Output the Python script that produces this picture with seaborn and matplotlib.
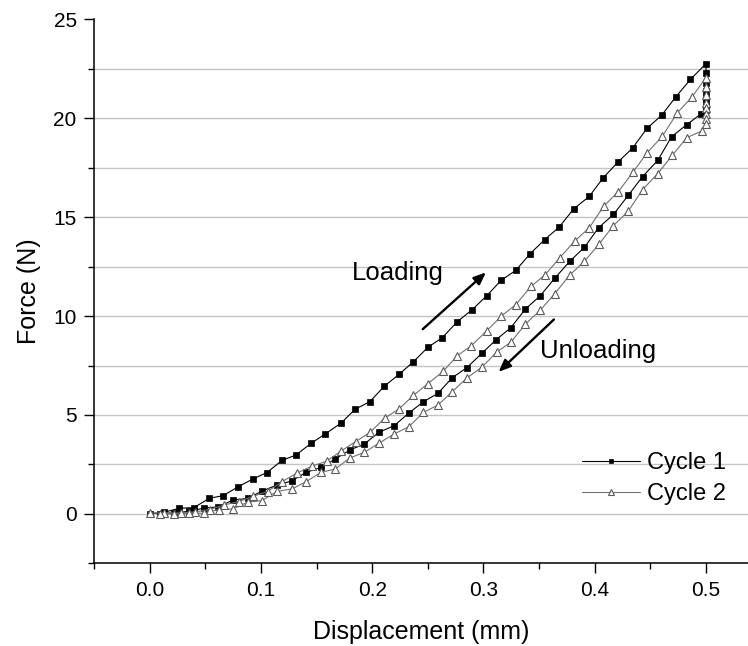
import numpy as np
import pandas as pd
import matplotlib
matplotlib.use("Agg")
import matplotlib.pyplot as plt
import seaborn as sns
from matplotlib.ticker import MultipleLocator, FixedLocator

# ---------------- data ----------------
c1_load_x = [0.0, 0.013, 0.0265, 0.040, 0.0537, 0.066, 0.0798, 0.093, 0.1055, 0.1188,
             0.1316, 0.1449, 0.1577, 0.172, 0.1846, 0.1978, 0.211, 0.224, 0.2368, 0.25,
             0.263, 0.2765, 0.2897, 0.303, 0.3158, 0.329, 0.342, 0.355, 0.368, 0.381,
             0.395, 0.4077, 0.421, 0.434, 0.447, 0.46, 0.473, 0.486, 0.5]
c1_load_y = [0.0, 0.08, 0.28, 0.32, 0.79, 0.92, 1.38, 1.77, 2.09, 2.70,
             2.98, 3.56, 4.04, 4.59, 5.29, 5.67, 6.46, 7.05, 7.68, 8.42,
             8.91, 9.72, 10.32, 11.03, 11.81, 12.31, 13.16, 13.87, 14.5, 15.42,
             16.05, 17.0, 17.8, 18.5, 19.5, 20.15, 21.1, 21.97, 22.77]
c1_hold_y = [22.3, 21.8, 21.4, 21.1, 20.8, 20.6, 20.4]
c1_unload_x = [0.4958, 0.4826, 0.469, 0.4565, 0.443, 0.43, 0.4168, 0.4036, 0.3907, 0.3775,
               0.364, 0.351, 0.3377, 0.3245, 0.311, 0.2984, 0.285, 0.272, 0.259, 0.246,
               0.233, 0.2197, 0.206, 0.193, 0.18, 0.1668, 0.154, 0.1407, 0.1275, 0.114,
               0.101, 0.088, 0.075, 0.0616, 0.0488, 0.0356, 0.022, 0.009]
c1_unload_y = [20.24, 19.68, 19.07, 17.87, 17.06, 16.1, 15.14, 14.48, 13.48, 12.77,
               11.91, 11.03, 10.36, 9.41, 8.79, 8.11, 7.39, 6.89, 6.09, 5.67,
               5.10, 4.46, 4.12, 3.54, 3.23, 2.77, 2.35, 2.10, 1.66, 1.45,
               1.15, 0.78, 0.70, 0.35, 0.29, 0.13, 0.05, 0.0]

c2_load_x = [0.0, 0.013, 0.028, 0.041, 0.054, 0.067, 0.080, 0.093, 0.106, 0.119,
             0.132, 0.1456, 0.159, 0.172, 0.185, 0.198, 0.2114, 0.224, 0.237, 0.25,
             0.2636, 0.2765, 0.289, 0.303, 0.3158, 0.329, 0.3427, 0.3555, 0.3687, 0.382,
             0.395, 0.408, 0.4213, 0.4346, 0.447, 0.4607, 0.474, 0.487, 0.5]
c2_load_y = [0.03, 0.06, 0.04, 0.10, 0.22, 0.45, 0.62, 0.89, 1.13, 1.63,
             2.05, 2.41, 2.66, 3.18, 3.65, 4.12, 4.85, 5.30, 5.99, 6.58,
             7.2, 8.0, 8.5, 9.26, 9.99, 10.58, 11.5, 12.1, 12.96, 13.8,
             14.46, 15.56, 16.3, 17.3, 18.26, 19.09, 20.27, 21.06, 22.06]
c2_hold_y = [21.6, 21.2, 20.8, 20.5, 20.2, 19.95, 19.7]
c2_unload_x = [0.496, 0.4826, 0.4697, 0.4565, 0.443, 0.43, 0.4168, 0.404, 0.3907, 0.3775,
               0.364, 0.351, 0.3377, 0.325, 0.3117, 0.2984, 0.285, 0.272, 0.259, 0.246,
               0.233, 0.2197, 0.2065, 0.193, 0.18, 0.167, 0.154, 0.1407, 0.128, 0.1146,
               0.101, 0.088, 0.075, 0.062, 0.049, 0.0356, 0.022, 0.009]
c2_unload_y = [19.36, 19.02, 18.13, 17.2, 16.4, 15.3, 14.58, 13.65, 12.77, 12.08,
               11.13, 10.3, 9.6, 8.7, 8.17, 7.41, 6.87, 6.18, 5.5, 5.13,
               4.41, 4.04, 3.59, 3.11, 2.83, 2.27, 2.10, 1.63, 1.26, 1.14,
               0.67, 0.59, 0.25, 0.22, 0.03, 0.05, 0.0, 0.0]

hold_x = 0.5
x_ticks = [0.0, 0.1, 0.2, 0.3, 0.4, 0.5]
y_ticks = [0, 5, 10, 15, 20, 25]
series_labels = ["Cycle 1", "Cycle 2"]


def cycle_frame(lx, ly, hy, ux, uy):
    xs = list(lx) + [hold_x] * len(hy) + list(ux)
    ys = list(ly) + list(hy) + list(uy)
    return pd.DataFrame({"x": xs, "y": ys, "order": np.arange(len(xs))})


df1 = cycle_frame(c1_load_x, c1_load_y, c1_hold_y, c1_unload_x, c1_unload_y)
df2 = cycle_frame(c2_load_x, c2_load_y, c2_hold_y, c2_unload_x, c2_unload_y)

# ---------------- style ----------------
sns.set_theme(style="ticks")
plt.rcParams["font.family"] = ["Liberation Sans", "DejaVu Sans"]

fig = plt.figure(figsize=(7.48, 6.46), dpi=100)
ax = fig.add_axes([94 / 748, (646 - 563.3) / 646, (748 - 94) / 748, (563.3 - 19.5) / 646])

sns.lineplot(data=df1, x="x", y="y", sort=False, estimator=None, ax=ax,
             color="black", lw=0.8, marker="s", markersize=4.3,
             markerfacecolor="black", markeredgecolor="black", markeredgewidth=0.5,
             label=series_labels[0])
sns.lineplot(data=df2, x="x", y="y", sort=False, estimator=None, ax=ax,
             color="#707070", lw=0.8, marker="^", markersize=5.8,
             markerfacecolor="white", markeredgecolor="#5a5a5a", markeredgewidth=0.8,
             label=series_labels[1])

ax.set_xlim(-0.05, 0.5377)
ax.set_ylim(-2.5, 25)
ax.xaxis.set_major_locator(FixedLocator(x_ticks))
ax.xaxis.set_minor_locator(MultipleLocator(0.05))
ax.yaxis.set_major_locator(FixedLocator(y_ticks))
ax.yaxis.set_minor_locator(MultipleLocator(2.5))
ax.set_xticklabels([f"{v:.1f}" for v in x_ticks])
ax.set_yticklabels([str(v) for v in y_ticks])

ax.yaxis.grid(True, which="both", color="#c4c4c4", lw=1.0)
ax.set_axisbelow(True)
for t, loc in zip(ax.yaxis.get_major_ticks(), y_ticks):
    if loc == 25:
        t.gridline.set_visible(False)

for s in ["top", "right"]:
    ax.spines[s].set_visible(False)
for s in ["left", "bottom"]:
    ax.spines[s].set_color("black")
    ax.spines[s].set_linewidth(1.1)

ax.tick_params(which="major", direction="out", length=7.5, width=1.0, color="black",
               labelsize=15, labelcolor="black", pad=5)
ax.tick_params(which="minor", direction="out", length=4, width=1.0, color="black")

ax.set_xlabel("Displacement (mm)", fontsize=18, color="black", labelpad=15)
ax.set_ylabel("Force (N)", fontsize=18, color="black", labelpad=9)

# annotations
ax.annotate("", xy=(0.3022, 12.21), xytext=(0.2454, 9.34),
            arrowprops=dict(arrowstyle="-|>,head_length=0.6,head_width=0.25",
                            color="black", lw=1.7, shrinkA=0, shrinkB=0))
ax.annotate("", xy=(0.3136, 7.18), xytext=(0.3633, 9.83),
            arrowprops=dict(arrowstyle="-|>,head_length=0.6,head_width=0.25",
                            color="black", lw=1.7, shrinkA=0, shrinkB=0))
ax.text(0.182, 12.2, "Loading", fontsize=18.5, ha="left", va="center", color="black")
ax.text(0.3507, 8.23, "Unloading", fontsize=18.5, ha="left", va="center", color="black")

leg = ax.legend(loc="upper left", bbox_to_anchor=(0.7457, 0.205), frameon=False,
                fontsize=17, handlelength=2.45, handletextpad=0.3, borderpad=0,
                borderaxespad=0, labelspacing=0.4, markerscale=0.75)
for txt in leg.get_texts():
    txt.set_color("black")

fig.savefig("out.png", dpi=100, facecolor="white")
